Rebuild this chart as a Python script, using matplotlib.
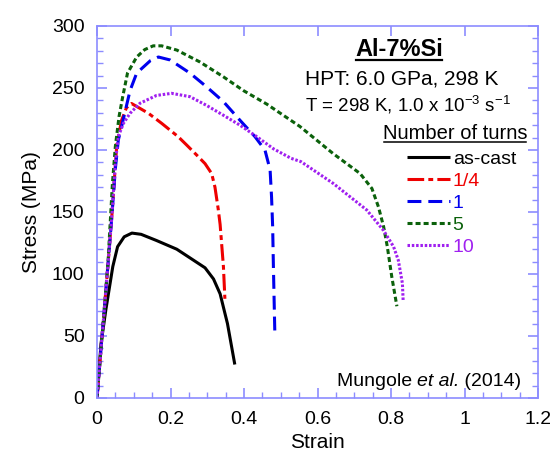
import matplotlib
matplotlib.use("Agg")
import matplotlib.pyplot as plt
from matplotlib.lines import Line2D
from matplotlib.ticker import MultipleLocator, FuncFormatter

plt.rcParams["font.family"] = ["Liberation Sans", "DejaVu Sans"]
plt.rcParams["mathtext.fontset"] = "custom"
plt.rcParams["mathtext.rm"] = "Liberation Sans"
plt.rcParams["mathtext.it"] = "Liberation Sans:italic"
plt.rcParams["lines.scale_dashes"] = False

# ── data ─────────────────────────────────────────────────────────────────────
labels = ["as-cast", "1/4", "1", "5", "10"]

strain_cast = [0, 0.011, 0.024, 0.043, 0.056, 0.074, 0.095, 0.12, 0.162, 0.217,
               0.253, 0.294, 0.317, 0.335, 0.355, 0.375]
stress_cast = [0, 44, 71, 106, 122, 130, 133, 132, 127, 120,
               113, 105, 96, 84, 60, 27]

strain_q = [0, 0.011, 0.02, 0.03, 0.04, 0.054, 0.067, 0.08, 0.094, 0.14, 0.176,
            0.221, 0.244, 0.271, 0.294, 0.312, 0.321, 0.33, 0.335, 0.344, 0.348]
stress_q = [0, 40, 72, 108, 145, 205, 224, 234, 237.5, 229.6, 221.5,
            210.7, 204, 196, 189, 181, 170, 152, 140, 106, 80]

strain_1 = [0, 0.011, 0.02, 0.03, 0.04, 0.05, 0.058, 0.067, 0.09, 0.108, 0.145,
            0.167, 0.199, 0.253, 0.298, 0.344, 0.389, 0.43, 0.457, 0.471, 0.475,
            0.478, 0.48, 0.484]
stress_1 = [0, 40, 72, 108, 145, 185, 208, 219, 248, 262, 272,
            275, 272.6, 262, 251, 239, 224, 210.7, 200, 184, 162,
            138, 106, 51]

strain_5 = [0, 0.011, 0.02, 0.03, 0.042, 0.05, 0.06, 0.07, 0.083, 0.108, 0.13,
            0.153, 0.176, 0.217, 0.28, 0.344, 0.398, 0.462, 0.552, 0.643, 0.716,
            0.748, 0.766, 0.78, 0.79, 0.802, 0.816]
stress_5 = [0, 40, 72, 110, 173, 203, 227, 243, 262, 275, 281,
            284, 284, 280.6, 271, 259, 248, 237, 219, 197, 181,
            169, 154, 138, 122, 98, 74]

strain_10 = [0, 0.011, 0.02, 0.03, 0.04, 0.05, 0.058, 0.072, 0.09, 0.117, 0.162,
             0.203, 0.253, 0.298, 0.344, 0.389, 0.435, 0.48, 0.528, 0.555, 0.643,
             0.734, 0.78, 0.807, 0.82, 0.831, 0.833]
stress_10 = [0, 40, 72, 108, 145, 190, 211, 221.5, 229.6, 237.7, 244,
             245.7, 243, 236, 228, 220, 210.7, 201, 193.3, 190.6, 173,
             151.6, 135, 122, 111, 92.5, 79]

curves = [(strain_cast, stress_cast), (strain_q, stress_q), (strain_1, stress_1),
          (strain_5, stress_5), (strain_10, stress_10)]
colors = ["black", "#ee0000", "#0000ee", "#0b610b", "#a020f0"]
dashes = [None, (12, 3, 3.5, 3), (10, 5), (3.6, 2.2), (1.8, 1.3)]

# ── figure ───────────────────────────────────────────────────────────────────
fig = plt.figure(figsize=(5.5, 4.55), dpi=100)
ax = fig.add_axes([97 / 550, 1 - 398 / 455, 441 / 550, 372 / 455])

handles = []
for (x, y), lab, c, d in zip(curves, labels, colors, dashes):
    ln, = ax.plot(x, y, color=c, lw=2.2, label=lab, solid_capstyle="butt",
                  dash_capstyle="butt")
    if d is not None:
        ln.set_dashes(d)
    handles.append(ln)

ax.set_xlim(0, 1.2)
ax.set_ylim(0, 300)
ax.xaxis.set_major_locator(MultipleLocator(0.2))
ax.xaxis.set_minor_locator(MultipleLocator(0.05))
ax.yaxis.set_major_locator(MultipleLocator(50))
ax.yaxis.set_minor_locator(MultipleLocator(10))
ax.xaxis.set_major_formatter(FuncFormatter(lambda v, p: f"{v:g}"))

spine_c = "#8c8cff"
for s in ax.spines.values():
    s.set_color(spine_c)
    s.set_linewidth(1.2)
ax.tick_params(which="both", direction="in", colors=spine_c, labelcolor="black",
               labelsize=14, top=True, right=True)
ax.tick_params(which="major", length=7, width=1.2, pad=9)
ax.tick_params(which="minor", length=4, width=1)
ax.tick_params(axis="x", which="minor", top=False)

ax.set_xlabel("Strain", fontsize=15, labelpad=4)
ax.set_ylabel("Stress (MPa)", fontsize=15, labelpad=8)

# annotations
t1 = ax.text(0.822, 281, "Al-7%Si", fontsize=17, fontweight="bold",
             ha="center", va="center")
ax.text(0.83, 257, "HPT: 6.0 GPa, 298 K", fontsize=15, ha="center", va="center")
ax.text(0.846, 236, r"T = 298 K, 1.0 x 10$^{-3}$ s$^{-1}$", fontsize=13.5,
        ha="center", va="center")
t2 = ax.text(0.974, 213, "Number of turns", fontsize=14.5, ha="center", va="center")

# citation, built from pieces so "et al." can be italic
ta = ax.text(1.155, 13, " (2014)", fontsize=14, ha="right", va="center")
tb = ax.annotate("et al.", xy=(0, 0), xycoords=ta, ha="right", va="bottom",
                 fontsize=14, style="italic")
ax.annotate("Mungole ", xy=(0, 0), xycoords=tb, ha="right", va="bottom",
            fontsize=14)

leg = ax.legend(handles=handles, loc="upper left", bbox_to_anchor=(0.703, 0.665),
                frameon=False, fontsize=14, handlelength=2.2, handletextpad=0.15,
                labelspacing=0.22, borderpad=0, borderaxespad=0,
                labelcolor="linecolor")

# underline the two headings
fig.canvas.draw()
r = fig.canvas.get_renderer()
for t, lw in [(t1, 1.6), (t2, 1.1)]:
    bb = t.get_window_extent(r)
    y0 = bb.y0 + 1
    fx0, fy = fig.transFigure.inverted().transform((bb.x0 + 1, y0))
    fx1, _ = fig.transFigure.inverted().transform((bb.x1 - 1, y0))
    fig.add_artist(Line2D([fx0, fx1], [fy, fy], color="black", lw=lw,
                          transform=fig.transFigure))

fig.savefig("out.png", dpi=100)
